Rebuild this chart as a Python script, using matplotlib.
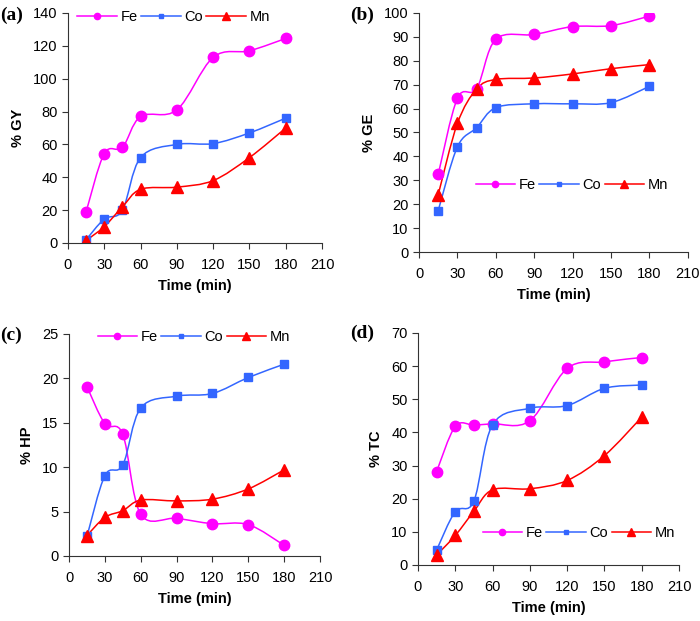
import matplotlib
matplotlib.use("Agg")
import matplotlib.pyplot as plt
import numpy as np
from matplotlib.lines import Line2D
from matplotlib.patches import PathPatch
from matplotlib.path import Path

plt.rcParams.update({
    "font.family": "Liberation Sans",
    "font.size": 10,
    "axes.spines.top": False,
    "axes.spines.right": False,
})

time_min = [15, 30, 45, 60, 90, 120, 150, 180]
x_ticks = [0, 30, 60, 90, 120, 150, 180, 210]

gy_fe = [19, 54.4, 58.2, 77, 81, 113, 117, 124.5]
gy_co = [2, 14.6, 20, 52, 60, 60.5, 67, 76]
gy_mn = [1.5, 10, 22, 32.7, 34, 38, 52, 70]

ge_fe = [32.5, 64.3, 68.3, 89, 91, 94.3, 94.7, 98.7]
ge_co = [17.3, 44, 52, 60.4, 62, 62, 62.5, 69.3]
ge_mn = [24, 53.8, 68.2, 72.2, 72.8, 74.5, 76.7, 78.4]

hp_fe = [19.07, 14.9, 13.7, 4.7, 4.24, 3.64, 3.53, 1.2]
hp_co = [2.2, 9.05, 10.25, 16.67, 18, 18.3, 20.1, 21.6]
hp_mn = [2.3, 4.35, 5.1, 6.3, 6.2, 6.4, 7.55, 9.7]

tc_fe = [28.2, 41.8, 42.2, 42.6, 43.5, 59.3, 61.3, 62.6]
tc_co = [4.5, 16.1, 19.3, 42.3, 47.3, 48.1, 53.3, 54.3]
tc_mn = [3, 8.9, 16.2, 22.7, 23, 25.5, 33, 44.6]

metals = ["Fe", "Co", "Mn"]
colors = {"Fe": "#FF00FF", "Co": "#3366FF", "Mn": "#FF0000"}
markers = {"Fe": ("o", 7.5), "Co": ("s", 6), "Mn": ("^", 8.5)}


def smooth_path(xs, ys):
    """Excel-style smoothed line as a cubic Bezier path through the points."""
    pts = np.column_stack([xs, ys]).astype(float)
    n = len(pts)
    verts = [pts[0]]
    codes = [Path.MOVETO]
    for i in range(n - 1):
        p0 = pts[max(i - 1, 0)]
        p1 = pts[i]
        p2 = pts[i + 1]
        p3 = pts[min(i + 2, n - 1)]
        verts += [p1 + (p2 - p0) / 6, p2 - (p3 - p1) / 6, p2]
        codes += [Path.CURVE4] * 3
    return Path(verts, codes)


def panel(fig, rect, series, ylabel, ylim, ystep, tag, tag_xy, leg_xy):
    ax = fig.add_axes(rect)
    for name, ys in zip(metals, series):
        ax.add_patch(PathPatch(smooth_path(time_min, ys), facecolor="none",
                               edgecolor=colors[name], lw=1.1))
        m, ms = markers[name]
        ax.plot(time_min, ys, linestyle="none", marker=m, markersize=ms,
                color=colors[name])
    ax.set_xlim(0, 210)
    ax.set_ylim(0, ylim)
    ax.set_xticks(x_ticks)
    ax.set_yticks(np.arange(0, ylim + 0.1, ystep))
    ax.tick_params(direction="out", length=4, width=0.8, colors="#333333",
                   labelcolor="black", labelsize=10.5)
    ax.tick_params(axis="x", pad=7)
    for s in ("left", "bottom"):
        ax.spines[s].set_color("#333333")
        ax.spines[s].set_linewidth(0.8)
    ax.set_xlabel("Time (min)", fontweight="bold", fontsize=10.5, labelpad=4.5)
    ax.set_ylabel(ylabel, fontweight="bold", fontsize=10.5, labelpad=6)

    handles = [Line2D([], [], color=colors[n], lw=1.1, marker=markers[n][0],
                      markersize=markers[n][1] * 0.6) for n in metals]
    ax.legend(handles, metals, loc="center", bbox_to_anchor=leg_xy,
              bbox_transform=fig.transFigure, ncol=3, frameon=False,
              handlelength=2.7, handletextpad=0.25, columnspacing=0.25,
              fontsize=10.5, borderpad=0, borderaxespad=0)
    fig.text(tag_xy[0], tag_xy[1], tag, family="Liberation Serif",
             fontweight="bold", fontsize=14, ha="left", va="center")
    return ax


fig = plt.figure(figsize=(7.0, 6.21), dpi=100)

panel(fig, [0.0971, 0.6087, 0.363, 0.3704], [gy_fe, gy_co, gy_mn],
      "% GY", 140, 20, "(a)", (0.0, 0.975), (0.248, 0.9726))
panel(fig, [0.5986, 0.5942, 0.384, 0.3849], [ge_fe, ge_co, ge_mn],
      "% GE", 100, 10, "(b)", (0.5, 0.975), (0.817, 0.702))
panel(fig, [0.0986, 0.1047, 0.3586, 0.3575], [hp_fe, hp_co, hp_mn],
      "% HP", 25, 5, "(c)", (0.0, 0.46), (0.277, 0.457))
panel(fig, [0.5971, 0.0902, 0.3729, 0.3736], [tc_fe, tc_co, tc_mn],
      "% TC", 70, 10, "(d)", (0.5, 0.463), (0.827, 0.142))

fig.savefig("out.png", dpi=100)
